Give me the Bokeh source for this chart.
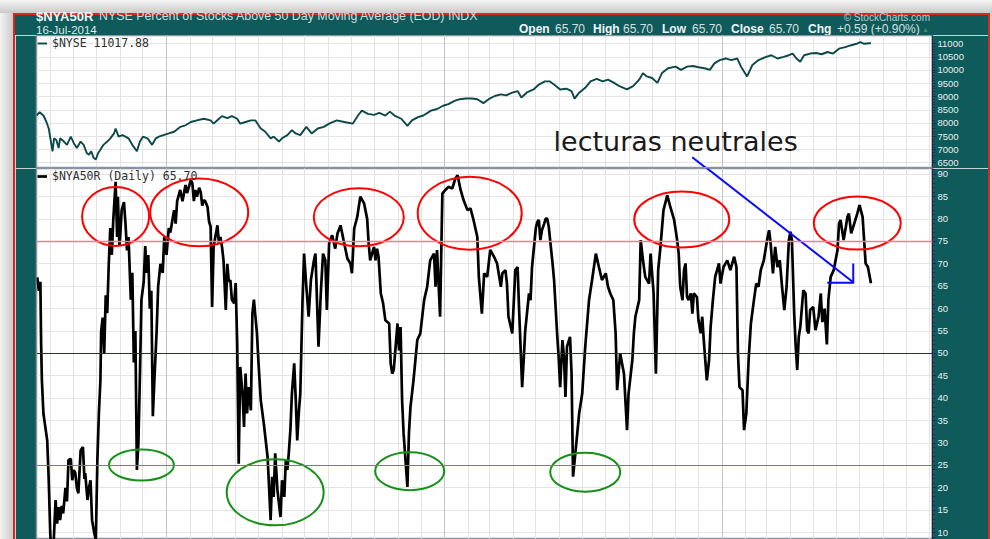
import numpy as np
import pandas as pd
from bokeh.plotting import figure
from bokeh.models import (ColumnDataSource, Range1d, FixedTicker, Grid, Label,
                          Span, Legend, LegendItem, Div)
from bokeh.layouts import column, row
from bokeh.embed import file_html
from bokeh.resources import INLINE

# ---------------- data ----------------
START = pd.Timestamp("2011-07-01")   # day 0 of the day offsets below

# $NYA50R  (percent of NYSE stocks above 50-day MA), day offsets from START
nya_day = [14, 16, 18, 19, 20, 22, 25, 27, 29, 31,
           33, 35, 38, 40, 42, 44, 46, 48, 51, 53,
           55, 58, 60, 62, 64, 66, 68, 71, 74, 76,
           77, 80, 82, 84, 86, 89, 91, 93, 95, 97,
           98, 100, 102, 104, 106, 108, 110, 112, 114, 117,
           119, 120, 122, 123, 125, 128, 130, 132, 134, 137,
           139, 141, 143, 145, 147, 149, 151, 154, 156, 158,
           160, 162, 164, 166, 168, 171, 173, 176, 179, 181,
           184, 187, 189, 192, 194, 196, 198, 202, 205, 209,
           211, 214, 216, 218, 220, 222, 224, 227, 229, 231,
           233, 235, 238, 240, 242, 244, 246, 251, 253, 255,
           257, 259, 262, 264, 266, 268, 270, 273, 275, 277,
           279, 281, 284, 286, 288, 290, 292, 295, 297, 299,
           301, 303, 305, 308, 312, 317, 319, 321, 323, 325,
           327, 330, 334, 336, 339, 341, 343, 345, 347, 349,
           352, 354, 356, 358, 360, 363, 365, 368, 371, 374,
           378, 380, 382, 384, 387, 390, 393, 395, 398, 402,
           406, 409, 413, 417, 422, 426, 428, 431, 435, 439,
           444, 448, 450, 452, 457, 459, 461, 463, 466, 469,
           472, 477, 479, 481, 483, 488, 490, 492, 494, 496,
           501, 503, 505, 509, 514, 518, 523, 527, 531, 536,
           538, 540, 544, 547, 551, 555, 560, 564, 567, 571,
           575, 580, 584, 588, 593, 595, 599, 602, 606, 610,
           615, 619, 624, 626, 630, 632, 634, 639, 643, 646,
           648, 652, 654, 656, 661, 663, 665, 670, 672, 674,
           676, 678, 681, 683, 685, 687, 692, 694, 698, 700,
           702, 705, 707, 709, 711, 715, 717, 719, 722, 727,
           731, 735, 740, 744, 749, 753, 757, 762, 765, 768,
           772, 775, 777, 781, 786, 790, 792, 797, 799, 801,
           806, 808, 811, 814, 819, 821, 825, 828, 831, 834,
           838, 843, 847, 852, 856, 858, 860, 863, 865, 867,
           869, 871, 874, 876, 878, 882, 884, 887, 889, 891,
           895, 898, 900, 903, 906, 911, 913, 917, 922, 926,
           931, 934, 936, 938, 942, 944, 947, 950, 953, 957,
           960, 963, 966, 970, 975, 977, 979, 982, 985, 988,
           991, 994, 997, 1000, 1003, 1005, 1007, 1010, 1012, 1014,
           1016, 1018, 1022, 1025, 1027, 1029, 1031, 1035, 1038, 1042,
           1045, 1047, 1050, 1053, 1055, 1058, 1062, 1067, 1069, 1071,
           1075, 1078, 1080, 1082, 1085, 1089, 1093, 1096, 1100, 1102,
           1104, 1107, 1111]
nya_val = [67, 64, 66, 52, 44, 36.6, 33, 30.6, 21.7, 9.8,
           4, 6, 17.3, 12, 15.7, 12.8, 16, 14.3, 20, 17,
           26.2, 26.5, 21.7, 24, 23.3, 20, 18.8, 28.4, 29.1, 22,
           23.3, 17.3, 20, 21.7, 12.8, 9.8, 8.5, 26.2, 36.6, 44,
           55, 58, 50, 63, 59, 70, 78, 72, 80, 88.3,
           76, 85, 74, 76, 82, 83.8, 79, 73, 76, 62,
           68, 48, 55, 24, 30, 45, 62, 66, 74, 68,
           72, 60, 64, 36, 44, 55, 65, 70, 68, 76,
           72, 78, 77, 80, 82, 79, 84, 86.5, 84, 87.6,
           85.8, 87.5, 88.7, 88, 84, 86.5, 85, 87, 86, 83,
           84.2, 84, 82.7, 79.4, 78.3, 60.4, 73.8, 78.6, 74.6, 76,
           73.8, 70.8, 59.7, 70, 66, 66.4, 62, 61.2, 65.7, 52.2,
           25.4, 47, 41, 33.6, 45.5, 36.6, 42.5, 37.3, 58.9, 62,
           58.2, 54.5, 48, 39.6, 34.4, 26.9, 20, 12.8, 22.5, 18,
           27.7, 19.5, 13.5, 21.7, 18, 26.2, 24, 28, 32.9, 41,
           47.8, 40, 30.6, 36.6, 41, 61.9, 72.3, 64.9, 58.2, 66.4,
           70.8, 72.3, 61.9, 51.5, 63.4, 72.3, 70.8, 59.7, 74.6, 76.4,
           73.4, 76.8, 78.6, 75.3, 71.2, 70.1, 67.9, 77.9, 80.5, 85,
           83.5, 80.1, 74.6, 70.8, 73.8, 70.8, 73.4, 71.6, 63.4, 61.2,
           57.4, 56.7, 47.8, 45.5, 46.3, 56.7, 50.7, 55.9, 39.6, 32.1,
           20.2, 32.1, 38, 44, 53, 54.5, 61.9, 64.9, 70.8, 72.3,
           64.9, 73.1, 58.2, 85.7, 86.5, 87.2, 86.8, 89, 89.8, 86.5,
           84.2, 82, 82.4, 79.8, 76, 67.1, 58.9, 67.9, 67.1, 73.1,
           71.6, 70.1, 64.9, 67.9, 68.6, 65.6, 58.2, 54.5, 68.6, 69.3,
           59.7, 42.5, 48.5, 55, 63.4, 61.9, 69.3, 78, 79.4, 79.8,
           75.3, 77.5, 79, 80.1, 80.1, 78.3, 70.1, 66.4, 54.5, 49.3,
           42.5, 53, 49.3, 40.3, 51.5, 53.7, 45.5, 22.5, 27.7, 36.6,
           41, 51.5, 61.9, 66.4, 72.3, 69.3, 66.4, 67.9, 64.9, 63.4,
           61.9, 54.5, 41.8, 50, 45.5, 32.9, 41, 48.5, 54.5, 58.2,
           61.9, 75.3, 70.8, 67.1, 65.6, 72.3, 63.4, 45.5, 68.6, 73.8,
           82, 85.3, 82.7, 79.8, 75.3, 72.3, 64.9, 61.9, 68.6, 70.1,
           62.6, 61.9, 63.4, 58.9, 63.4, 62.6, 57.4, 54.5, 58.2, 53,
           44, 48.5, 55.9, 61.9, 67.1, 70.1, 65.6, 69.3, 70.8, 68.6,
           71.6, 69.3, 50, 42.5, 41.8, 32.9, 36.6, 48.5, 56.7, 61.9,
           65.6, 64.9, 68.6, 70.8, 76, 77.5, 74.6, 67.9, 73.8, 69.3,
           70.8, 64.9, 59.7, 64.9, 75.3, 77.2, 75.3, 58.9, 51.5, 46.3,
           53.7, 55.9, 64.1, 63.4, 55.2, 54.5, 59.7, 60.4, 55.2, 58.2,
           63.4, 57, 60, 52, 62, 67.1, 68.6, 73.1, 79, 79.8,
           75.3, 78.3, 80.5, 81.2, 76.8, 79, 81.2, 83.1, 80.5, 75.3,
           70.1, 69.3, 65.70]

# $NYSE composite index, day offsets from START
nyse_day = [13, 17, 22, 26, 29, 34, 36, 39, 42, 44,
            49, 53, 58, 62, 66, 71, 75, 79, 82, 85,
            88, 91, 94, 97, 101, 106, 110, 115, 117, 121,
            126, 130, 134, 139, 145, 149, 153, 159, 165, 170,
            174, 180, 187, 194, 202, 209, 216, 224, 233, 242,
            246, 253, 257, 264, 270, 277, 281, 288, 295, 301,
            308, 314, 321, 325, 332, 336, 343, 349, 354, 360,
            368, 375, 383, 391, 398, 408, 418, 429, 436, 441,
            449, 457, 464, 472, 478, 484, 493, 501, 507, 515,
            522, 532, 540, 548, 555, 563, 570, 578, 586, 593,
            601, 608, 616, 624, 631, 639, 646, 651, 659, 667,
            674, 682, 688, 694, 702, 710, 717, 721, 727, 735,
            742, 750, 758, 765, 773, 780, 790, 798, 806, 811,
            816, 823, 830, 836, 844, 854, 861, 869, 877, 884,
            892, 899, 905, 912, 920, 927, 935, 940, 948, 955,
            963, 973, 980, 988, 996, 1003, 1008, 1013, 1018, 1023,
            1031, 1039, 1046, 1054, 1061, 1069, 1077, 1084, 1092, 1097,
            1102, 1109, 1111]
nyse_val = [8292, 8417, 8292, 8048, 7801, 6941, 7432, 7369, 7063, 7432,
            7310, 7185, 7494, 7247, 7063, 7310, 7185, 6878, 6815, 6941,
            6694, 6631, 6878, 6999, 7185, 7310, 7432, 7616, 7801, 7494,
            7554, 7494, 7432, 7185, 6941, 7310, 7494, 7432, 7185, 7432,
            7494, 7554, 7616, 7679, 7863, 7923, 8048, 8107, 8170, 8107,
            7985, 8170, 8269, 8196, 8269, 8170, 7985, 8048, 8107, 8107,
            7801, 7679, 7432, 7494, 7310, 7432, 7554, 7738, 7616, 7554,
            7863, 7616, 7801, 7863, 7985, 8107, 8048, 7985, 8292, 8476,
            8354, 8317, 8391, 8292, 8439, 8292, 8170, 7900, 8107, 8232,
            8292, 8476, 8539, 8661, 8723, 8845, 8908, 8933, 8933, 8908,
            8760, 8908, 9030, 9092, 9055, 9155, 9214, 8970, 9177, 9277,
            9461, 9583, 9583, 9461, 9277, 9303, 9214, 8933, 9155, 9339,
            9583, 9672, 9583, 9646, 9524, 9399, 9277, 9399, 9646, 9893,
            9768, 9708, 9524, 9893, 10077, 10137, 10015, 10137, 10162, 10114,
            10077, 10015, 10262, 10384, 10446, 10384, 10446, 10137, 9768, 10199,
            10384, 10506, 10568, 10446, 10506, 10568, 10631, 10446, 10322, 10568,
            10631, 10653, 10605, 10690, 10631, 10815, 10875, 10937, 11000, 11059,
            11000, 11022, 11017.88]

nyse_ticks = [6500, 7000, 7500, 8000, 8500, 9000, 9500, 10000, 10500, 11000]
nya_ticks = [10, 15, 20, 25, 30, 35, 40, 45, 50, 55, 60, 65, 70, 75, 80, 85, 90]
nya_levels = {"overbought": 75, "middle": 50, "oversold": 25}

# hand-drawn annotation marks (day offset, value, screen width, screen height)
red_marks = [(117, 80.6, 67, 59), (227, 81.5, 98, 68), (437, 80.4, 90, 58),
             (583, 81.3, 104, 73), (862, 79.9, 95, 56), (1093, 79.1, 87, 53)]
green_marks = [(151, 25.1, 65, 31), (327, 19.0, 97, 66), (504, 23.7, 69, 38),
               (735, 23.5, 70, 39)]
trend_day = [875.8, 1088.5]
trend_nya = [93.9, 65.8]
trend_nyse = [6719, 1970]

# ---------------- helpers ----------------
def to_date(days):
    return START + pd.to_timedelta(np.asarray(days, dtype=float), unit="D")

def ms(day):
    return (START + pd.Timedelta(days=day)).value / 1e6

TEAL = "#0f5a5a"
RED = "#e0261c"
AXIS = "#1d2b4a"
SEP = "#8a92a2"
FW = 973
x_rng = Range1d(START + pd.Timedelta(days=12.9), START + pd.Timedelta(days=1192))
month_ticks = [t.value / 1e6 for t in pd.date_range("2011-08-01", "2014-10-01", freq="MS")]
year_ticks = [t.value / 1e6 for t in pd.date_range("2012-01-01", "2014-01-01", freq="YS")]


def make_fig(height, y_rng):
    p = figure(width=FW, height=height, x_range=x_rng, y_range=y_rng,
               x_axis_type="datetime", x_axis_location=None, y_axis_location="right",
               output_backend="svg", toolbar_location=None,
               min_border_left=21, min_border_right=56, min_border_top=0,
               min_border_bottom=0, background_fill_color="white",
               border_fill_color=TEAL, outline_line_color=SEP,
               outline_line_width=1.5, margin=0)
    p.add_layout(Grid(dimension=0, ticker=FixedTicker(ticks=month_ticks),
                      grid_line_color="#e3e3e3", grid_line_width=1))
    p.add_layout(Grid(dimension=0, ticker=FixedTicker(ticks=year_ticks),
                      grid_line_color="#c4c4c4", grid_line_width=1))
    ax = p.yaxis[0]
    ax.axis_line_color = AXIS
    ax.axis_line_width = 1.5
    ax.major_tick_line_color = AXIS
    ax.minor_tick_line_color = AXIS
    ax.major_tick_in = 0
    ax.major_tick_out = 3
    ax.minor_tick_in = 0
    ax.minor_tick_out = 2
    ax.major_label_text_color = "#e8f0f0"
    ax.major_label_text_font = "Liberation Sans"
    ax.major_label_text_font_size = "9.5px"
    ax.major_label_standoff = 2
    p.ygrid.grid_line_color = "#e4e4e4"
    return p


def legend_for(p, label, r):
    leg = Legend(items=[LegendItem(label=label, renderers=[r])], location="top_left",
                 background_fill_alpha=0, border_line_alpha=0, margin=1, padding=0,
                 glyph_width=10, glyph_height=12, label_height=12, label_standoff=5,
                 label_text_font="DejaVu Sans Mono", label_text_font_size="11.5px",
                 label_text_color="#303030", spacing=0)
    p.add_layout(leg)

# ---------------- upper panel: $NYSE ----------------
p1 = make_fig(133, Range1d(6292, 11313))
p1.yaxis[0].ticker = FixedTicker(ticks=nyse_ticks,
                                 minor_ticks=list(range(6500, 11001, 100)))
p1.add_layout(Span(location=6292, dimension="width", line_color=SEP, line_width=3))
src1 = ColumnDataSource(dict(date=to_date(nyse_day), val=nyse_val))
r1 = p1.line("date", "val", source=src1, line_color="#0c4848", line_width=1.9)
legend_for(p1, "$NYSE 11017.88", r1)
p1.line(to_date(trend_day), trend_nyse, line_color="#0a0aff", line_width=2)
p1.add_layout(Label(x=ms(693.3), y=7300, text="lecturas neutrales",
                    text_font="DejaVu Sans", text_font_size="27px",
                    text_color="#1a1a1a", text_baseline="alphabetic"))

# ---------------- lower panel: $NYA50R ----------------
p2 = make_fig(371, Range1d(8.48, 91.29))
p2.yaxis[0].ticker = FixedTicker(ticks=nya_ticks, minor_ticks=list(range(9, 92)))
p2.add_layout(Span(location=nya_levels["overbought"], dimension="width",
                   line_color="#e8818f", line_width=1.6))
p2.add_layout(Span(location=nya_levels["middle"], dimension="width",
                   line_color="#22228c", line_width=1))
p2.add_layout(Span(location=nya_levels["oversold"], dimension="width",
                   line_color="#4f9a4f", line_width=1))
src2 = ColumnDataSource(dict(date=to_date(nya_day), val=nya_val))
r2 = p2.line("date", "val", source=src2, line_color="black", line_width=2.7)
legend_for(p2, "$NYA50R (Daily) 65.70", r2)

for marks, col in ((red_marks, "#ff0000"), (green_marks, "#169016")):
    d, v, w, h = zip(*marks)
    p2.ellipse(x=to_date(d), y=list(v), width=list(w), height=list(h),
               width_units="screen", height_units="screen",
               fill_alpha=0, line_color=col, line_width=2)

p2.line(to_date(trend_day), trend_nya, line_color="#0a0aff", line_width=2)
p2.line(to_date([1053.5, 1088.5]), [65.8, 65.8], line_color="#0a0aff", line_width=2)
p2.line(to_date([1087.7, 1087.7]), [70.1, 65.8], line_color="#0a0aff", line_width=2)

# ---------------- header and frame ----------------
def span(txt, left, top, size, bold=False, color="#dde8e8"):
    w = "bold" if bold else "normal"
    return (f'<span style="position:absolute;display:block;left:{left}px;top:{top}px;'
            f'font-size:{size}px;line-height:9px;height:9px;font-weight:{w};color:{color};'
            f'white-space:nowrap">{txt}</span>')

ohlc = [("Open", True, 504), ("65.70", False, 540), ("High", True, 578),
        ("65.70", False, 608), ("Low", True, 647), ("65.70", False, 677),
        ("Close", True, 716), ("65.70", False, 754), ("Chg", True, 793),
        ("+0.59 (+0.90%)", False, 822)]
parts = [span("$NYA50R", 21, -1, 13, True, "#f0f6f6"),
         span("NYSE Percent of Stocks Above 50 Day Moving Average (EOD) INDX", 84, -1, 12.4,
              False, "#cfdcdc"),
         span("16-Jul-2014", 21, 13, 11.5, False, "#dde8e8"),
         '<span style="position:absolute;display:block;right:58px;top:0px;font-size:10px;'
         'line-height:9px;height:9px;color:#b9cccc;white-space:nowrap">&copy; StockCharts.com</span>',
         span("&#9650;", 907, 12, 7, False, "#3f8f5f")]
for txt, bold, xx in ohlc:
    parts.append(span(txt, xx, 12, 12, bold, "#f0f6f6" if bold else "#d4e0e0"))

header_html = ('<div style="position:relative;width:973px;height:22px;'
               'font-family:\'Liberation Sans\',Arial,sans-serif;">' + "".join(parts) + "</div>")
header = Div(text=header_html, width=973, height=22, margin=0, disable_math=True,
             styles={"background-color": TEAL, "box-shadow": f"inset 0 2px 0 {RED}",
                     "overflow": "visible"})

top_strip = Div(text="", width=992, height=13, margin=0,
                styles={"background-color": "#e2e2e2",
                        "background-image": "linear-gradient(to bottom,#f6f6f6,#c9c9c9)"})
left_edge = Div(text="", width=15, height=526, margin=0,
                styles={"background-color": "#d6d6d6",
                        "background-image": "linear-gradient(to right,#f2f2f2,#c6c6c6)",
                        "box-shadow": f"inset -2px 0 0 {RED}"})
right_edge = Div(text="", width=4, height=526, margin=0,
                 styles={"background-color": "#d2d2d2",
                         "box-shadow": f"inset 2px 0 0 {RED}"})

layout = column(top_strip,
                row(left_edge, column(header, p1, p2, spacing=0), right_edge, spacing=0),
                spacing=0)
open("out.html", "w").write(file_html(layout, INLINE))
